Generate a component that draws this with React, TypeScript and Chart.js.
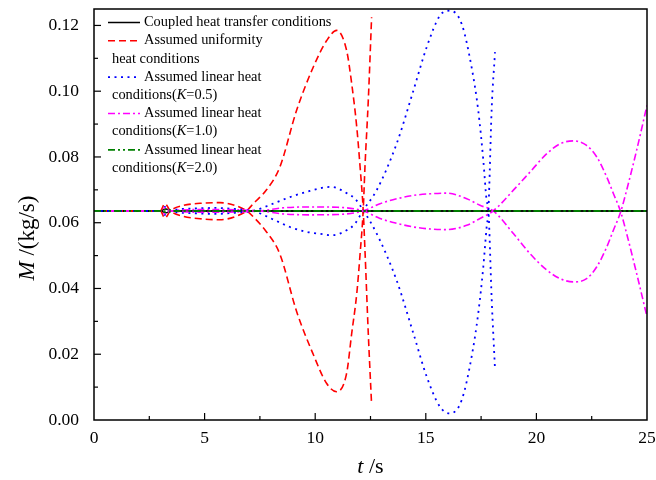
import React, { useEffect, useRef } from "react";
import { Chart, registerables } from "chart.js";

Chart.register(...registerables);

const FONT = '"Liberation Serif", "Times New Roman", Times, serif';

// ---- axis settings ----
const xMin = 0;
const xMax = 25;
const xStep = 2.5;
const yMin = 0;
const yMax = 0.125;
const yStep = 0.01;

// ---- series data: t (s) and two branches of M (kg/s) ----
const coupledT = [0, 3.0, 3.25, 3.5, 25];
const coupledA = [0.0636, 0.0636, 0.0642, 0.0636, 0.0636];
const coupledB = [0.0636, 0.0636, 0.063, 0.0636, 0.0636];

const uniformT = [0, 3.0, 3.2, 3.45, 4.0, 4.8, 5.7, 6.4, 6.9, 7.2, 7.8, 8.4, 9.16, 9.91, 10.52, 10.97, 11.42, 11.65, 11.88, 12.03, 12.17, 12.25, 12.4, 12.55];
const uniformA = [0.0636, 0.0636, 0.0658, 0.0636, 0.062, 0.0612, 0.0609, 0.0619, 0.0636, 0.0658, 0.07, 0.0769, 0.0942, 0.1073, 0.1154, 0.1185, 0.1124, 0.1023, 0.089, 0.0769, 0.0638, 0.0516, 0.0263, 0.0046];
const uniformB = [0.0636, 0.0636, 0.0614, 0.0636, 0.0652, 0.0659, 0.0661, 0.0652, 0.0636, 0.0618, 0.0572, 0.0505, 0.033, 0.02, 0.0111, 0.0086, 0.0142, 0.0263, 0.0385, 0.0506, 0.0638, 0.077, 0.0972, 0.1225];

const k05T = [0, 3.0, 3.2, 3.45, 4.5, 5.5, 6.5, 7.2, 8.1, 8.86, 9.62, 10.37, 10.74, 11.42, 11.8, 12.17, 12.78, 13.68, 14.44, 15.04, 15.64, 16.09, 16.62, 17.07, 17.37, 17.6, 17.75, 17.83, 17.98, 18.13];
const k05A = [0.0636, 0.0636, 0.0648, 0.0636, 0.0629, 0.0627, 0.0631, 0.0636, 0.0658, 0.0678, 0.0694, 0.0707, 0.0709, 0.069, 0.0673, 0.0638, 0.0567, 0.0425, 0.0263, 0.0132, 0.004, 0.002, 0.006, 0.0192, 0.0324, 0.0466, 0.0587, 0.0638, 0.095, 0.1119];
const k05B = [0.0636, 0.0636, 0.0624, 0.0636, 0.0643, 0.0645, 0.0641, 0.0636, 0.061, 0.0587, 0.0572, 0.0565, 0.0562, 0.0577, 0.0597, 0.0638, 0.0699, 0.084, 0.1002, 0.1134, 0.123, 0.1245, 0.1205, 0.1073, 0.0942, 0.079, 0.0668, 0.0638, 0.0365, 0.0152];

const k10T = [0, 3.0, 3.2, 3.45, 5.2, 7.5, 8.5, 9.8, 11.0, 12.17, 12.93, 13.7, 14.44, 15.2, 15.94, 16.85, 17.45, 18.05, 18.96, 19.71, 20.47, 21.07, 21.67, 22.27, 22.73, 23.18, 23.48, 23.81, 24.08, 24.53, 25.0];
const k10A = [0.0636, 0.0636, 0.0645, 0.0636, 0.0632, 0.0636, 0.0645, 0.0648, 0.0647, 0.0636, 0.0613, 0.0598, 0.0587, 0.0581, 0.0579, 0.0592, 0.0613, 0.0636, 0.0699, 0.0754, 0.081, 0.084, 0.0849, 0.0835, 0.08, 0.0739, 0.0689, 0.0633, 0.0567, 0.0446, 0.0314];
const k10B = [0.0636, 0.0636, 0.0627, 0.0636, 0.064, 0.0636, 0.0627, 0.0624, 0.0625, 0.0636, 0.0658, 0.0673, 0.0683, 0.0688, 0.069, 0.0673, 0.0653, 0.0636, 0.0567, 0.0506, 0.0456, 0.043, 0.042, 0.043, 0.0466, 0.0526, 0.0577, 0.0633, 0.0699, 0.082, 0.0957];

const k20T = [0, 3.0, 3.3, 3.6, 25];
const k20A = [0.0636, 0.0636, 0.0641, 0.0636, 0.0636];
const k20B = [0.0636, 0.0636, 0.0631, 0.0636, 0.0636];

const legendTexts = [
  ["Coupled heat transfer conditions"],
  ["Assumed uniformity", "heat conditions"],
  ["Assumed linear heat", "conditions(*K*=0.5)"],
  ["Assumed linear heat", "conditions(*K*=1.0)"],
  ["Assumed linear heat", "conditions(*K*=2.0)"],
];

const xTitle = "*t* /s";
const yTitle = "*M* /(kg/s)";

// ---- styles ----
const seriesStyles = [
  { color: "#000000", dash: [] as number[], width: 1.5, order: 5 },
  { color: "#ff0000", dash: [7, 4], width: 1.6, order: 4 },
  { color: "#0000ff", dash: [2, 4.5], width: 1.8, order: 3 },
  { color: "#ff00ff", dash: [7, 3, 2, 3], width: 1.6, order: 2 },
  { color: "#008000", dash: [7, 3, 2, 3, 2, 3], width: 1.6, order: 1 },
];

const seriesData = [
  [coupledT, coupledA, coupledB],
  [uniformT, uniformA, uniformB],
  [k05T, k05A, k05B],
  [k10T, k10A, k10B],
  [k20T, k20A, k20B],
];

function pts(t: number[], m: number[]) {
  return t.map((x, i) => ({ x, y: m[i] }));
}

function drawRich(ctx: CanvasRenderingContext2D, text: string, x: number, y: number, size: number, align: "left" | "center") {
  const parts = text.split("*");
  const fonts = parts.map((_, i) => `${i % 2 ? "italic " : ""}${size}px ${FONT}`);
  const widths = parts.map((p, i) => {
    ctx.font = fonts[i];
    return ctx.measureText(p).width;
  });
  const total = widths.reduce((a, b) => a + b, 0);
  let cx = align === "center" ? x - total / 2 : x;
  ctx.textAlign = "left";
  ctx.textBaseline = "middle";
  ctx.fillStyle = "#000";
  parts.forEach((p, i) => {
    ctx.font = fonts[i];
    ctx.fillText(p, cx, y);
    cx += widths[i];
  });
}

const decorPlugin = {
  id: "decor",
  afterDraw(chart: any) {
    const { ctx, chartArea: a, scales } = chart;
    ctx.save();
    // frame
    ctx.strokeStyle = "#000";
    ctx.lineWidth = 1.5;
    ctx.setLineDash([]);
    ctx.strokeRect(a.left, a.top, a.right - a.left, a.bottom - a.top);
    // inward ticks
    ctx.lineWidth = 1.2;
    const xs = scales.x;
    xs.ticks.forEach((t: any) => {
      const px = xs.getPixelForValue(t.value);
      if (px <= a.left + 0.5 || px >= a.right - 0.5) return;
      const len = t.label !== "" ? 7 : 4;
      ctx.beginPath();
      ctx.moveTo(px, a.bottom);
      ctx.lineTo(px, a.bottom - len);
      ctx.stroke();
    });
    const ys = scales.y;
    ys.ticks.forEach((t: any) => {
      const py = ys.getPixelForValue(t.value);
      if (py >= a.bottom - 0.5 || py <= a.top + 0.5) return;
      const len = t.label !== "" ? 7 : 4;
      ctx.beginPath();
      ctx.moveTo(a.left, py);
      ctx.lineTo(a.left + len, py);
      ctx.stroke();
    });
    // axis titles
    drawRich(ctx, xTitle, (a.left + a.right) / 2, 467, 22, "center");
    ctx.save();
    ctx.translate(28, 238);
    ctx.rotate(-Math.PI / 2);
    drawRich(ctx, yTitle, 0, 0, 23, "center");
    ctx.restore();
    // legend
    let line = 0;
    const y0 = 22.5;
    const lh = 18.2;
    legendTexts.forEach((texts, i) => {
      const st = seriesStyles[i];
      const y = y0 + line * lh;
      ctx.strokeStyle = st.color;
      ctx.lineWidth = st.width;
      ctx.setLineDash(st.dash);
      ctx.beginPath();
      ctx.moveTo(108, y);
      ctx.lineTo(140, y);
      ctx.stroke();
      ctx.setLineDash([]);
      texts.forEach((tx, j) => {
        drawRich(ctx, tx, j === 0 ? 144 : 112, y0 + (line + j) * lh, 14.4, "left");
      });
      line += texts.length;
    });
    ctx.restore();
  },
};

export default function App() {
  const ref = useRef<HTMLCanvasElement | null>(null);
  useEffect(() => {
    const canvas = ref.current;
    if (!canvas) return;
    const datasets: any[] = [];
    seriesData.forEach(([t, a], i) => {
      const st = seriesStyles[i];
      datasets.push({
        data: pts(t, a),
        borderColor: st.color,
        borderWidth: st.width,
        borderDash: st.dash,
        pointRadius: 0,
        cubicInterpolationMode: "monotone",
        fill: false,
        order: st.order,
      });
    });
    seriesData.forEach(([t, , b], i) => {
      const st = seriesStyles[i];
      datasets.push({
        data: pts(t, b),
        borderColor: st.color,
        borderWidth: st.width,
        borderDash: st.dash,
        pointRadius: 0,
        cubicInterpolationMode: "monotone",
        fill: false,
        order: st.order,
      });
    });
    const chart = new Chart(canvas, {
      type: "line",
      data: { datasets },
      options: {
        responsive: false,
        animation: false,
        devicePixelRatio: 1,
        layout: { padding: { top: 9, right: 9, left: 0, bottom: 0 } },
        plugins: { legend: { display: false }, tooltip: { enabled: false } },
        scales: {
          x: {
            type: "linear",
            min: xMin,
            max: xMax,
            afterFit: (s: any) => {
              s.height = 60;
              s.paddingLeft = 0;
              s.paddingRight = 0;
            },
            grid: { display: false, drawTicks: false },
            border: { display: false },
            ticks: {
              stepSize: xStep,
              autoSkip: false,
              includeBounds: false,
              maxRotation: 0,
              padding: 8,
              color: "#000",
              font: { family: FONT, size: 17.5 },
              callback: (v: any) => (Math.round(Number(v) * 10) % 50 === 0 ? String(Number(v)) : ""),
            },
          },
          y: {
            type: "linear",
            min: yMin,
            max: yMax,
            afterFit: (s: any) => {
              s.width = 94;
              s.paddingTop = 0;
              s.paddingBottom = 0;
            },
            grid: { display: false, drawTicks: false },
            border: { display: false },
            ticks: {
              stepSize: yStep,
              autoSkip: false,
              includeBounds: false,
              padding: 15,
              color: "#000",
              font: { family: FONT, size: 17.5 },
              callback: (v: any) => (Math.round(Number(v) * 1000) % 20 === 0 ? Number(v).toFixed(2) : ""),
            },
          },
        },
      },
      plugins: [decorPlugin],
    });
    return () => chart.destroy();
  }, []);
  return (
    <div style={{ position: "fixed", left: 0, top: 0, width: 656, height: 480, background: "#fff" }}>
      <canvas ref={ref} width={656} height={480} style={{ width: 656, height: 480 }} />
    </div>
  );
}
